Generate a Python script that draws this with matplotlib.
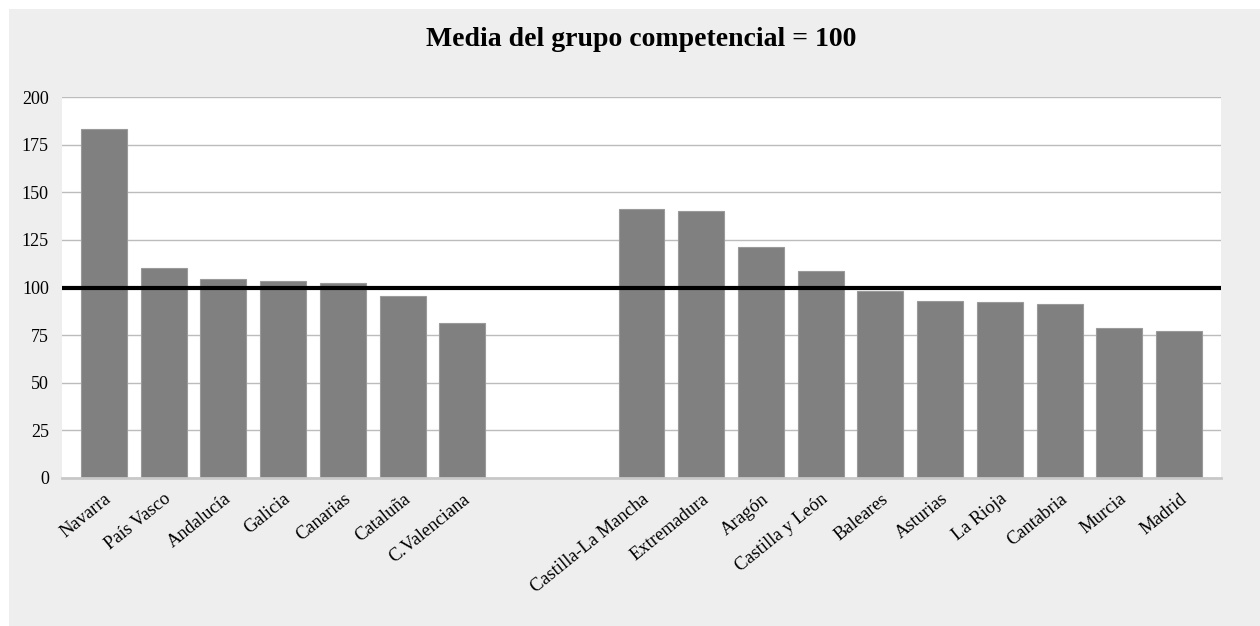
import numpy as np
import matplotlib.pyplot as plt
from matplotlib.patches import Rectangle

plt.rcParams['font.family'] = ['Liberation Serif', 'DejaVu Serif']

# left block of regions
grupo1 = ['Navarra', 'País Vasco', 'Andalucía', 'Galicia', 'Canarias',
          'Cataluña', 'C.Valenciana']
valores1 = [183.2, 110.1, 104.5, 103.4, 102.4, 95.5, 81.2]

# right block of regions
grupo2 = ['Castilla-La Mancha', 'Extremadura', 'Aragón', 'Castilla y León',
          'Baleares', 'Asturias', 'La Rioja', 'Cantabria', 'Murcia', 'Madrid']
valores2 = [141.2, 140.2, 121.3, 108.7, 98.2, 92.9, 92.4, 91.2, 78.6, 77.3]

media = 100
yticks = [0, 25, 50, 75, 100, 125, 150, 175, 200]
hueco = 2  # empty slots between the two blocks

pos1 = np.arange(len(grupo1))
pos2 = np.arange(len(grupo2)) + len(grupo1) + hueco
nslots = len(grupo1) + hueco + len(grupo2)

fig = plt.figure(figsize=(12.6, 6.26), dpi=100)
fig.patches.append(Rectangle((9 / 1260, 0), 1, 617 / 626, transform=fig.transFigure,
                             facecolor='#eeeeee', edgecolor='none', zorder=-10))

ax = fig.add_axes([62 / 1260, 148 / 626, 1159 / 1260, 381 / 626])
ax.set_facecolor('white')

ax.bar(pos1, valores1, width=0.77, color='#808080', edgecolor='#9a9a9a', lw=0.8, zorder=2)
ax.bar(pos2, valores2, width=0.77, color='#808080', edgecolor='#9a9a9a', lw=0.8, zorder=2)
ax.axhline(media, color='black', lw=3, zorder=3)

ax.set_xlim(-0.703, nslots - 1 + 0.703)
ax.set_ylim(0, 200)
ax.set_yticks(yticks)
ax.yaxis.grid(True, color='#bcbcbc', lw=1)
ax.set_axisbelow(True)

for s in ['top', 'right', 'left']:
    ax.spines[s].set_visible(False)
ax.spines['bottom'].set_color('#c8c8c8')
ax.spines['bottom'].set_linewidth(2)

ax.tick_params(axis='y', length=0, pad=9.5, labelsize=13)
ax.tick_params(axis='x', length=0, pad=9)
ax.set_xticks(np.concatenate([pos1, pos2]))
ax.set_xticklabels(grupo1 + grupo2, rotation=39, ha='right', va='top',
                   rotation_mode='anchor', fontsize=13.3)

fig.text(641 / 1260, 1 - 40 / 626, 'Media del grupo competencial = 100',
         ha='center', va='center', fontsize=20, fontweight='bold')

fig.savefig('out.png', dpi=100)
